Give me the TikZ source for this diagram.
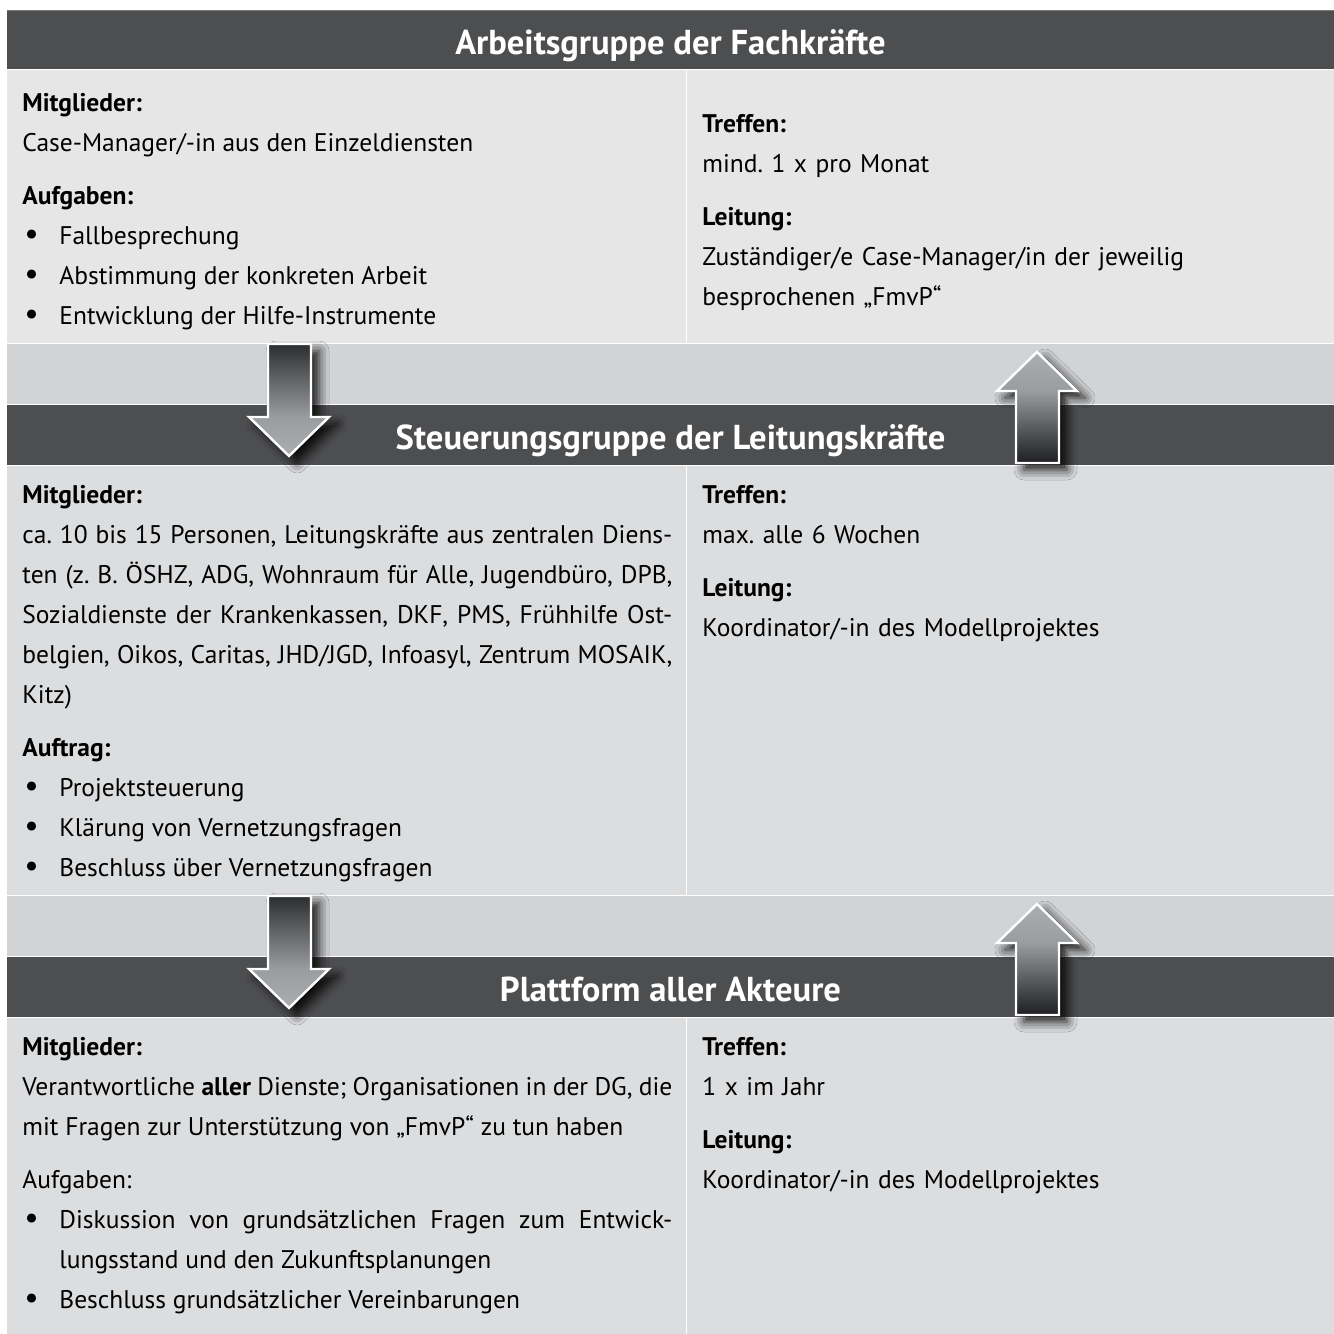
\documentclass[tikz,border=0pt]{standalone}
\usepackage{fontspec}
\setmainfont{PT Sans}
\usetikzlibrary{shadows.blur}

\definecolor{headgray}{HTML}{4D4E50}
\definecolor{rowlight}{HTML}{E6E6E6}
\definecolor{rowgray}{HTML}{DCDDDF}
\definecolor{gapgray}{HTML}{D2D3D5}
\definecolor{edgegray}{HTML}{7A7B7D}
\definecolor{arrowtip}{HTML}{ABAEB0}
\definecolor{arrowmid}{HTML}{9A9DA0}
\definecolor{arrowdark}{HTML}{2C2D2F}
\definecolor{arrowlow}{HTML}{55575A}
\definecolor{arrowblack}{HTML}{1E1F21}

\pgfdeclareverticalshading{arrowdown}{100bp}{color(0bp)=(arrowtip); color(25bp)=(arrowtip); color(42.5bp)=(arrowmid); color(75bp)=(arrowdark); color(100bp)=(arrowdark)}
\pgfdeclareverticalshading{arrowup}{100bp}{color(0bp)=(arrowblack); color(25bp)=(arrowblack); color(40bp)=(arrowlow); color(57.5bp)=(arrowmid); color(75bp)=(arrowtip); color(100bp)=(arrowtip)}

\newcommand{\bodysize}{\fontsize{12.75}{20}\selectfont}
\newcommand{\titlesize}{\fontsize{17.3}{20}\selectfont}
\newcommand{\bul}{\par\hangindent=18.5pt\hangafter=1\noindent\makebox[18.5pt][l]{\hspace{1pt}{\fontsize{16}{16}\selectfont\textbullet}}}
\setlength{\parindent}{0pt}
\tolerance=9999
\frenchspacing

\begin{document}
\begin{tikzpicture}[x=0.5pt,y=0.5pt,yscale=-1,xscale=1,
  body/.style={anchor=base west, inner sep=0pt, text width=325pt, align=justify, font=\bodysize},
  side/.style={anchor=base west, inner sep=0pt, text width=310pt, align=left, font=\bodysize},
  title/.style={anchor=base, inner sep=0pt, text=white, font=\titlesize\bfseries},
  sep/.style={draw=white, line width=0.6pt},
  bigarrow/.style={draw=white, line width=1.2pt, line join=miter,
    blur shadow={shadow xshift=4pt, shadow yshift=-3.5pt, shadow blur radius=5pt, shadow opacity=90}}]
\useasboundingbox (0,0) rectangle (1334,1334);
\fill[white] (0,0) rectangle (1334,1334);

%Bands
\fill[headgray] (7,10) rectangle (1334,69);
\fill[rowlight] (7,70) rectangle (1334,343);
\fill[gapgray] (7,344) rectangle (1334,404);
\fill[headgray] (7,405) rectangle (1334,465);
\fill[rowgray] (7,466) rectangle (1334,895);
\fill[gapgray] (7,896) rectangle (1334,956);
\fill[headgray] (7,957) rectangle (1334,1017);
\fill[rowgray] (7,1018) rectangle (1334,1334);
\draw[edgegray, line width=0.6pt] (7,10.5) -- (1334,10.5);

%Separators
\draw[sep] (7,69.5) -- (1334,69.5);
\draw[sep] (7,343.5) -- (1334,343.5);
\draw[sep] (7,404.5) -- (1334,404.5);
\draw[sep] (7,465.5) -- (1334,465.5);
\draw[sep] (7,895.5) -- (1334,895.5);
\draw[sep] (7,956.5) -- (1334,956.5);
\draw[sep] (7,1017.5) -- (1334,1017.5);
\draw[sep] (686.5,70) -- (686.5,343);
\draw[sep] (686.5,466) -- (686.5,895);
\draw[sep] (686.5,1018) -- (686.5,1334);

%Arrows
\draw[bigarrow, shading=arrowdown] (268,344) -- (311,344) -- (311,417) -- (329,417) -- (289,456) -- (249,417) -- (268,417) -- cycle;
\draw[bigarrow, shading=arrowdown] (268,896) -- (311,896) -- (311,969) -- (329,969) -- (289,1008) -- (249,969) -- (268,969) -- cycle;
\draw[bigarrow, shading=arrowup] (1037,352) -- (1077,391) -- (1059,391) -- (1059,463) -- (1016,463) -- (1016,391) -- (997,391) -- cycle;
\draw[bigarrow, shading=arrowup] (1037,904) -- (1077,943) -- (1059,943) -- (1059,1015) -- (1016,1015) -- (1016,943) -- (997,943) -- cycle;

% Titles
\node (arbeit) [title] at (670.5,54) {Arbeitsgruppe der Fachkräfte};
\node (steuer) [title] at (670.5,449) {Steuerungsgruppe der Leitungskräfte};
\node (plattform) [title] at (670.5,1001) {Plattform aller Akteure};

% Text Node
\node (arbeitL) [body] at (22,111) {\textbf{Mitglieder:}\par
Case-Manager/-in aus den Einzeldiensten\par\vspace{6.5pt}
\textbf{Aufgaben:}
\bul Fallbesprechung
\bul Abstimmung der konkreten Arbeit
\bul Entwicklung der Hilfe-Instrumente};
% Text Node
\node (arbeitR) [side] at (702,132) {\textbf{Treffen:}\par
mind. 1 x pro Monat\par\vspace{6.5pt}
\textbf{Leitung:}\par
Zuständiger/e Case-Manager/in der jeweilig\par
besprochenen „FmvP“};

% Text Node
\node (steuerL) [body] at (22,503) {\textbf{Mitglieder:}\par
ca. 10 bis 15 Personen, Leitungskräfte aus zentralen Diens-\linebreak
ten (z. B. ÖSHZ, ADG, Wohnraum für Alle, Jugendbüro, DPB,\linebreak
Sozialdienste der Krankenkassen, DKF, PMS, Frühhilfe Ost-\linebreak
belgien, Oikos, Caritas, JHD/JGD, Infoasyl, Zentrum MOSAIK,\linebreak
Kitz)\par\vspace{6.5pt}
\textbf{Auftrag:}
\bul Projektsteuerung
\bul Klärung von Vernetzungsfragen
\bul Beschluss über Vernetzungsfragen};
% Text Node
\node (steuerR) [side] at (702,503) {\textbf{Treffen:}\par
max. alle 6 Wochen\par\vspace{6.5pt}
\textbf{Leitung:}\par
Koordinator/-in des Modellprojektes};

% Text Node
\node (plattL) [body] at (22,1055) {\textbf{Mitglieder:}\par
Verantwortliche \textbf{aller} Dienste; Organisationen in der DG, die\linebreak
mit Fragen zur Unterstützung von „FmvP“ zu tun haben\par\vspace{6.5pt}
Aufgaben:
\bul Diskussion von grundsätzlichen Fragen zum Entwick-\linebreak
lungsstand und den Zukunftsplanungen
\bul Beschluss grundsätzlicher Vereinbarungen};
% Text Node
\node (plattR) [side] at (702,1055) {\textbf{Treffen:}\par
1 x im Jahr\par\vspace{6.5pt}
\textbf{Leitung:}\par
Koordinator/-in des Modellprojektes};

\end{tikzpicture}
\end{document}
